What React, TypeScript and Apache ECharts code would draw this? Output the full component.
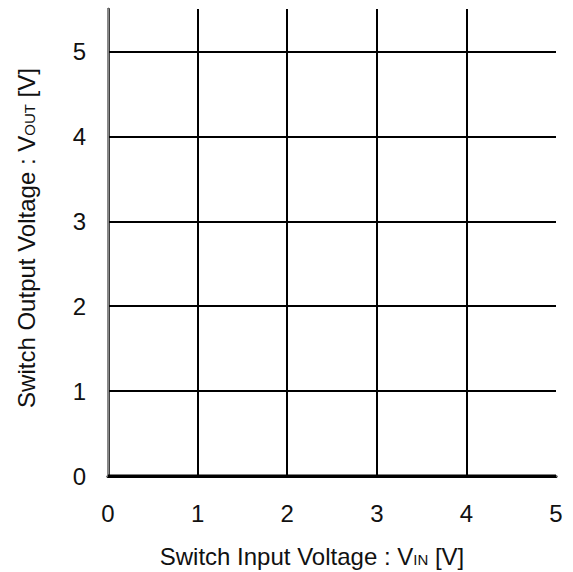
import React, { useEffect, useRef } from "react";
import * as echarts from "echarts";

const xTicks = [0, 1, 2, 3, 4, 5];
const yTicks = [0, 1, 2, 3, 4, 5];
const xRange = [0, 5];
const yRange = [0, 5.5];
const outputLine: [number, number][] = [
  [0, 0],
  [5, 0],
];

const FONT = "Liberation Sans, Arial, sans-serif";

export default function App() {
  const ref = useRef<HTMLDivElement>(null);
  useEffect(() => {
    if (!ref.current) return;
    const chart = echarts.init(ref.current, null, { renderer: "svg" });
    const labelStyle = { color: "#111", fontSize: 24, fontFamily: FONT };
    const rich = {
      a: { fontSize: 24, fontFamily: FONT, fill: "#111", lineHeight: 30, verticalAlign: "bottom" },
      s: { fontSize: 15, fontFamily: FONT, fill: "#111", lineHeight: 30, verticalAlign: "bottom", padding: [0, 0, 1, 0] },
    };
    chart.setOption({
      animation: false,
      backgroundColor: "#fff",
      grid: { left: 108, right: 17, top: 9, bottom: 96 },
      xAxis: [
        {
          type: "value",
          min: xRange[0],
          max: xRange[1],
          interval: 1,
          axisLine: { show: true, lineStyle: { color: "#000", width: 3 } },
          axisTick: { show: false },
          axisLabel: {
            ...labelStyle,
            margin: 25,
            formatter: (v: number) => (xTicks.includes(v) ? String(v) : ""),
          },
          splitLine: {
            show: true,
            showMinLine: false,
            showMaxLine: false,
            lineStyle: { color: "#000", width: 2 },
          },
        },
        {
          type: "value",
          position: "top",
          min: xRange[0],
          max: xRange[1],
          interval: 1,
          axisLine: { show: true, lineStyle: { color: "#888", width: 2 } },
          axisTick: { show: false },
          axisLabel: { show: false },
          splitLine: { show: false },
        },
      ],
      yAxis: [
        {
          type: "value",
          min: yRange[0],
          max: yRange[1],
          interval: 1,
          axisLine: { show: true, lineStyle: { color: "#000", width: 2.5 } },
          axisTick: { show: false },
          axisLabel: {
            ...labelStyle,
            margin: 22,
            showMaxLabel: false,
            formatter: (v: number) => (yTicks.includes(v) ? String(v) : ""),
          },
          splitLine: {
            show: true,
            showMinLine: false,
            showMaxLine: false,
            lineStyle: { color: "#000", width: 2 },
          },
        },
        {
          type: "value",
          position: "right",
          min: yRange[0],
          max: yRange[1],
          interval: 1,
          axisLine: { show: true, lineStyle: { color: "#888", width: 2 } },
          axisTick: { show: false },
          axisLabel: { show: false },
          splitLine: { show: false },
        },
      ],
      series: [
        {
          type: "line",
          data: outputLine,
          symbol: "none",
          lineStyle: { color: "#000", width: 3 },
          z: 5,
        },
      ],
      graphic: [
        {
          type: "text",
          x: 312,
          y: 553,
          style: {
            text: "{a|Switch Input Voltage : V}{s|IN}{a| [V]}",
            align: "center",
            verticalAlign: "middle",
            fill: "#111",
            rich,
          },
        },
        {
          type: "text",
          x: 23,
          y: 238,
          rotation: Math.PI / 2,
          style: {
            text: "{a|Switch Output Voltage : V}{s|OUT}{a| [V]}",
            align: "center",
            verticalAlign: "middle",
            fill: "#111",
            rich,
          },
        },
      ],
    });
    return () => chart.dispose();
  }, []);
  return (
    <div
      ref={ref}
      style={{ position: "absolute", left: 0, top: 0, width: 573, height: 572 }}
    />
  );
}
